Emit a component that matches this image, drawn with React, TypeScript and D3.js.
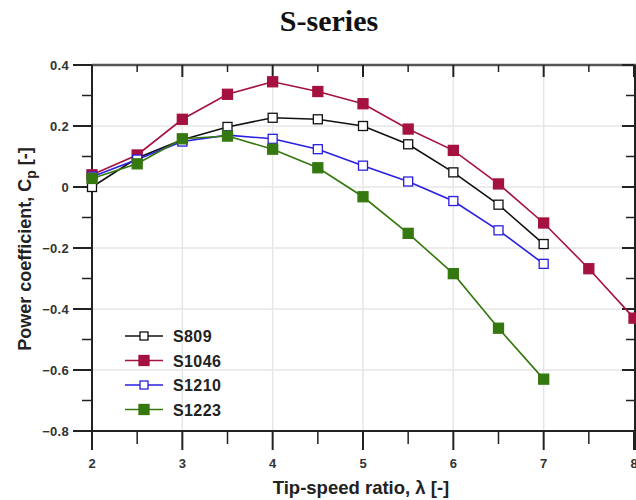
import React from "react";
import * as d3 from "d3";

const tsr = [2, 2.5, 3, 3.5, 4, 4.5, 5, 5.5, 6, 6.5, 7, 7.5, 8];
const s809 = [0.0, 0.095, 0.155, 0.197, 0.227, 0.222, 0.2, 0.14, 0.048, -0.058, -0.187];
const s1046 = [0.04, 0.105, 0.222, 0.304, 0.345, 0.313, 0.273, 0.19, 0.12, 0.01, -0.118, -0.268, -0.43];
const s1210 = [0.034, 0.09, 0.149, 0.17, 0.158, 0.124, 0.07, 0.018, -0.046, -0.142, -0.252];
const s1223 = [0.028, 0.076, 0.158, 0.167, 0.124, 0.063, -0.032, -0.152, -0.284, -0.463, -0.63];
const seriesNames = ["S809", "S1046", "S1210", "S1223"];
const seriesColors = ["#111111", "#a5123f", "#2a1fe0", "#35780f"];
const seriesFilled = [false, true, false, true];
const xTicks = [2, 3, 4, 5, 6, 7, 8];
const yTicks = [0.4, 0.2, 0, -0.2, -0.4, -0.6, -0.8];

export default function App() {
  const W = 636, H = 500;
  const x = d3.scaleLinear().domain([2, 8]).range([92, 634]);
  const y = d3.scaleLinear().domain([-0.8, 0.4]).range([431, 65]);
  const data = [s809, s1046, s1210, s1223];
  const line = d3.line<number>().x((_, i) => x(tsr[i])).y((d) => y(d));
  const xMinor = d3.range(2.5, 8, 1);
  const yMinor = d3.range(-0.7, 0.4, 0.2);
  const font = "'Liberation Sans', Arial, sans-serif";
  return (
    <svg width={W} height={H} style={{ position: "absolute", left: 0, top: 0, background: "#fff" }}>
      <rect x={0} y={0} width={W} height={H} fill="#fff" />
      <text x={329} y={31} textAnchor="middle" fontFamily="'Liberation Serif', 'DejaVu Serif', serif" fontWeight="bold" fontSize={30} fill="#111">S-series</text>
      {/* grid */}
      {xTicks.slice(1, -1).map((t) => (
        <line key={"gx" + t} x1={x(t)} x2={x(t)} y1={65} y2={431} stroke="#e6e6e6" strokeWidth={1.5} />
      ))}
      {yTicks.slice(1, -1).map((t) => (
        <line key={"gy" + t} x1={92} x2={634} y1={y(t)} y2={y(t)} stroke="#e6e6e6" strokeWidth={1.5} />
      ))}
      {/* frame */}
      <line x1={92} x2={636} y1={65} y2={65} stroke="#555" strokeWidth={2.5} />
      <line x1={92} x2={636} y1={431} y2={431} stroke="#222" strokeWidth={2} />
      <line x1={92} x2={92} y1={65} y2={450} stroke="#222" strokeWidth={2} />
      <line x1={635} x2={635} y1={65} y2={450} stroke="#222" strokeWidth={2} />
      {/* x ticks */}
      {xTicks.map((t) => (
        <g key={"xt" + t}>
          <line x1={x(t)} x2={x(t)} y1={431} y2={450} stroke="#222" strokeWidth={2} />
          <line x1={x(t)} x2={x(t)} y1={65} y2={77} stroke="#222" strokeWidth={2} />
          <text x={x(t)} y={468} textAnchor="middle" fontFamily={font} fontWeight="bold" fontSize={13} fill="#333">{t}</text>
        </g>
      ))}
      {xMinor.map((t) => (
        <g key={"xm" + t}>
          <line x1={x(t)} x2={x(t)} y1={431} y2={444} stroke="#222" strokeWidth={1.5} />
          <line x1={x(t)} x2={x(t)} y1={65} y2={72} stroke="#222" strokeWidth={1.5} />
        </g>
      ))}
      {/* y ticks */}
      {yTicks.map((t) => (
        <g key={"yt" + t}>
          <line x1={73} x2={92} y1={y(t)} y2={y(t)} stroke="#222" strokeWidth={2} />
          <line x1={622} x2={634} y1={y(t)} y2={y(t)} stroke="#222" strokeWidth={2} />
          <text x={69} y={y(t) + 4.5} textAnchor="end" fontFamily={font} fontWeight="bold" fontSize={13} letterSpacing={0.3} fill="#333">{t === 0 ? "0" : d3.format(".1f")(t)}</text>
        </g>
      ))}
      {yMinor.map((t) => (
        <g key={"ym" + t}>
          <line x1={82} x2={92} y1={y(t)} y2={y(t)} stroke="#222" strokeWidth={1.5} />
          <line x1={626} x2={634} y1={y(t)} y2={y(t)} stroke="#222" strokeWidth={1.5} />
        </g>
      ))}
      {/* axis titles */}
      <text transform="translate(31,249) rotate(-90)" textAnchor="middle" fontFamily={font} fontWeight="bold" fontSize={18} fill="#222">
        Power coefficient, C<tspan fontSize={14} dy={5}>p</tspan><tspan dy={-5}> [-]</tspan>
      </text>
      <text x={361} y={494} textAnchor="middle" fontFamily={font} fontWeight="bold" fontSize={18.5} fill="#222">Tip-speed ratio, λ [-]</text>
      {/* series */}
      {data.map((vals, si) => (
        <g key={"s" + si}>
          <path d={line(vals) || ""} fill="none" stroke={seriesColors[si]} strokeWidth={1.6} />
          {vals.map((v, i) => (
            <rect key={i}
              x={x(tsr[i]) - (seriesFilled[si] ? 5 : 4.5)}
              y={y(v) - (seriesFilled[si] ? 5 : 4.5)}
              width={seriesFilled[si] ? 10 : 9}
              height={seriesFilled[si] ? 10 : 9}
              fill={seriesFilled[si] ? seriesColors[si] : "#fff"}
              stroke={seriesColors[si]} strokeWidth={1.3} />
          ))}
        </g>
      ))}
      {/* legend */}
      {seriesNames.map((n, i) => {
        const ly = 336 + i * 24.5;
        const f = seriesFilled[i];
        return (
          <g key={"lg" + n}>
            <line x1={125} x2={163} y1={ly} y2={ly} stroke={seriesColors[i]} strokeWidth={1.6} />
            <rect x={144 - (f ? 5 : 4)} y={ly - (f ? 5 : 4)} width={f ? 10 : 8} height={f ? 10 : 8}
              fill={f ? seriesColors[i] : "#fff"} stroke={seriesColors[i]} strokeWidth={1.3} />
            <text x={173} y={ly + 6} fontFamily={font} fontWeight="bold" fontSize={16} letterSpacing={0.4} fill="#222">{n}</text>
          </g>
        );
      })}
    </svg>
  );
}
